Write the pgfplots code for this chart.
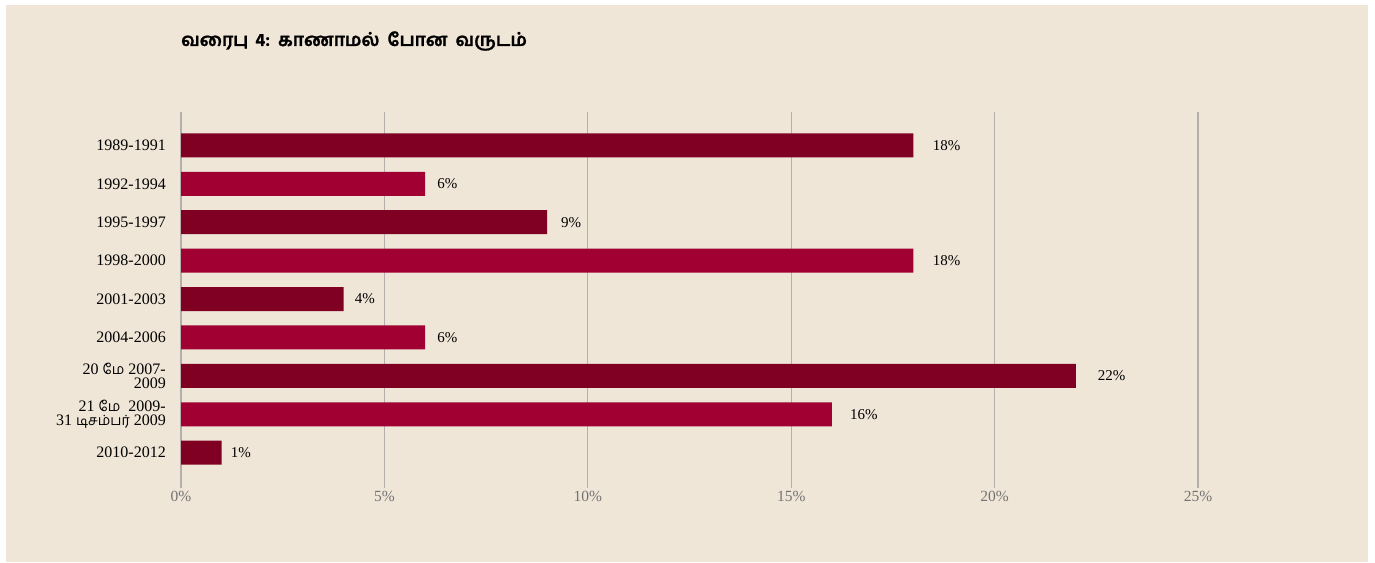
\documentclass[border=0pt]{standalone}
\usepackage{pgfplots}
\pgfplotsset{compat=1.18}
\usepackage{fontspec}
\setmainfont{Liberation Serif}
\newfontfamily\tamil[Script=Tamil, Scale=0.88]{Hind Madurai}
\newfontfamily\tamiltitle[Script=Tamil, BoldFeatures={FakeBold=1.2}]{Hind Madurai}
\definecolor{bg}{RGB}{240,230,216}
\definecolor{darkbar}{RGB}{128,0,35}
\definecolor{lightbar}{RGB}{160,0,50}
\definecolor{gridc}{RGB}{180,175,172}
\definecolor{tickc}{RGB}{115,115,115}

\begin{document}
\begin{tikzpicture}[x=1pt,y=1pt]
% page and panel
\fill[white] (0,0) rectangle (1375,562);
\fill[bg] (6,0) rectangle (1368,557);
\node[anchor=west, inner sep=0pt, font=\tamiltitle\bfseries\fontsize{18}{20}\selectfont]
  at (181,521) {வரைபு\hspace{7pt}4:\hspace{8pt}காணாமல்\hspace{8pt}போன\hspace{8pt}வருடம்};
\begin{axis}[
  at={(181pt,74pt)}, anchor=south west,
  scale only axis, width=1017pt, height=376pt,
  xbar, bar width=24pt, bar shift=0pt,
  xmin=0, xmax=25, ymin=-0.87, ymax=8.92, y dir=reverse,
  axis line style={draw=none},
  /pgf/number format/assume math mode=true,
  xtick={0,5,10,15,20,25},
  xticklabel={\pgfmathprintnumber{\tick}\%},
  xticklabel style={font=\fontsize{15.5}{18}\selectfont, text=tickc},
  ytick={0,...,8},
  yticklabels={1989-1991, 1992-1994, 1995-1997, 1998-2000, 2001-2003, 2004-2006,
    {20 {\tamil மே} 2007-\\2009},
    {21 {\tamil மே}\ \ 2009-\\31 {\tamil டிசம்பர்} 2009},
    2010-2012},
  yticklabel style={align=right, inner sep=0pt, xshift=-15pt,
    font=\fontsize{16}{13.8}\selectfont, text=black},
  major tick length=0pt,
  xmajorgrids, ymajorgrids=false,
  grid style={gridc, line width=1.2pt},
  nodes near coords={\pgfmathprintnumber{\pgfplotspointmeta}\%},
  visualization depends on={x \as \xv},
  nodes near coords style={anchor=west, inner sep=0pt, text=black,
    font=\fontsize{15}{18}\selectfont, xshift={(8.5+0.6*\xv)*1pt}},
  clip=false,
]
\addplot[fill=darkbar, draw=none] coordinates {(18,0) (9,2) (4,4) (22,6) (1,8)};
\addplot[fill=lightbar, draw=none] coordinates {(6,1) (18,3) (6,5) (16,7)};
\end{axis}
\end{tikzpicture}
\end{document}
